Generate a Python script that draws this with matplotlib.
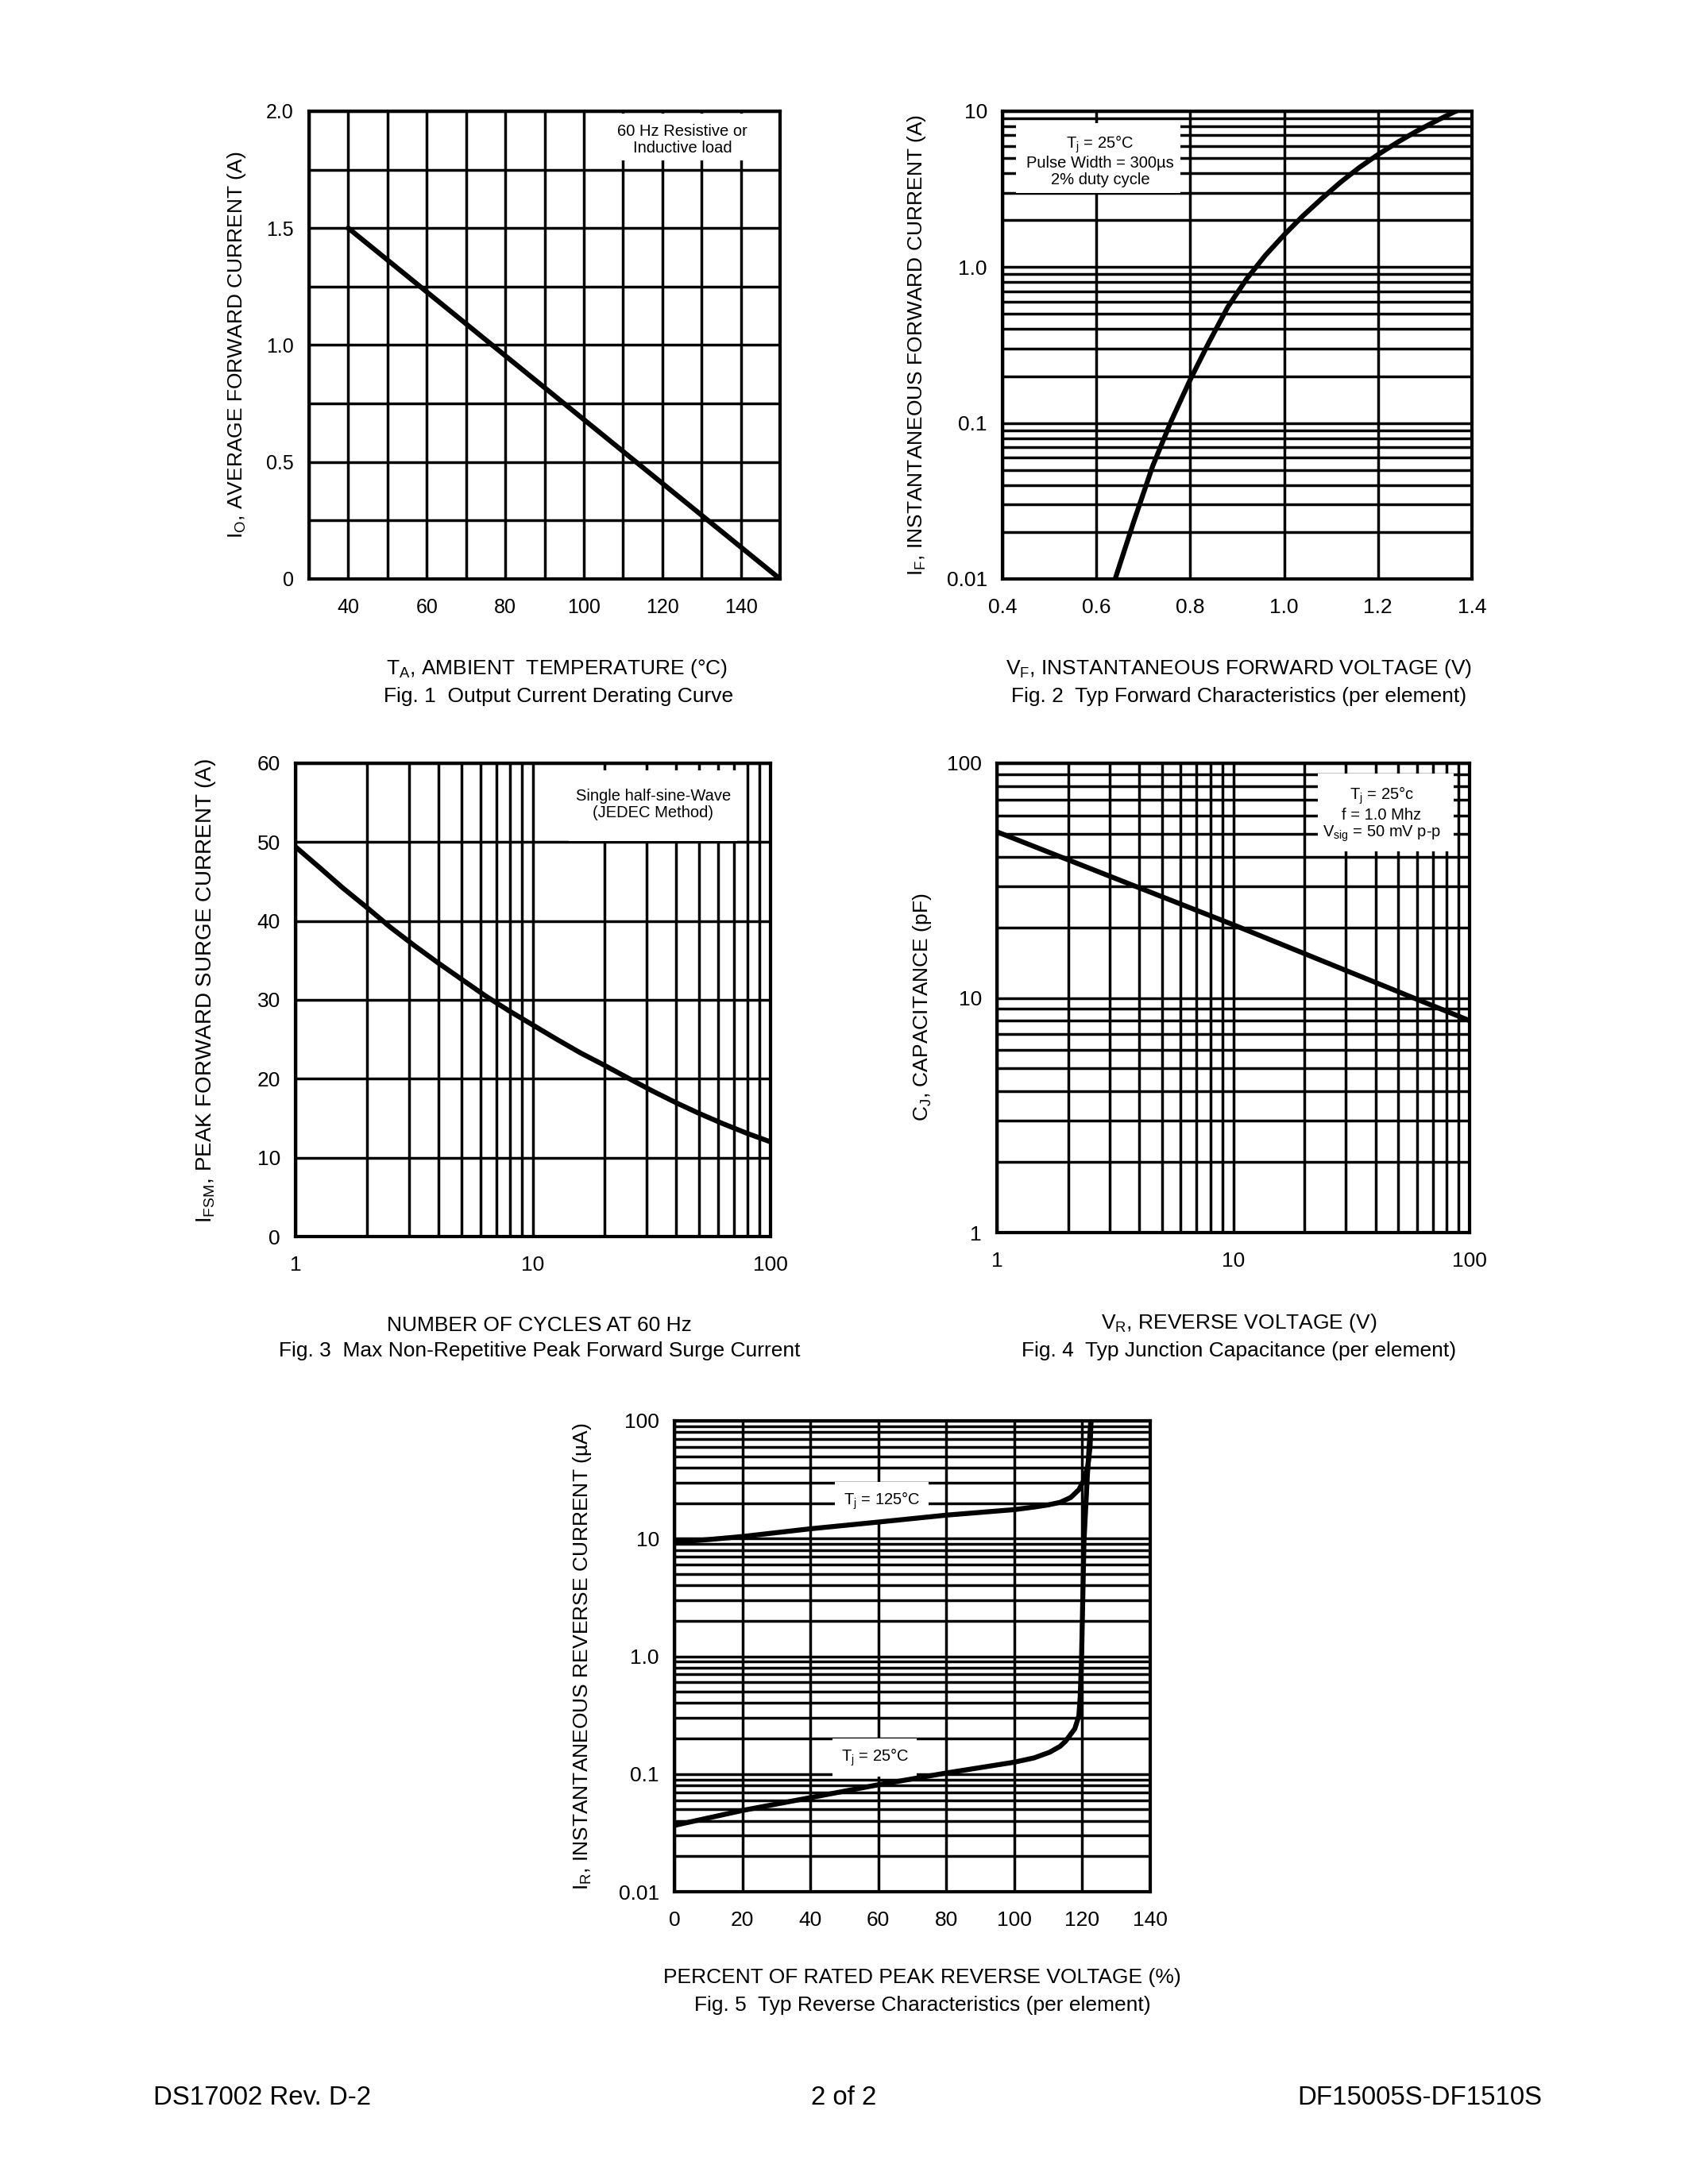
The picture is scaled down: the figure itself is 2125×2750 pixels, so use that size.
import numpy as np
import matplotlib.pyplot as plt
from matplotlib.patches import Rectangle
from matplotlib.ticker import LogLocator, NullFormatter

plt.rcParams['font.family'] = ['Liberation Sans', 'DejaVu Sans']
plt.rcParams['mathtext.fontset'] = 'custom'
plt.rcParams['mathtext.rm'] = 'Liberation Sans'
plt.rcParams['mathtext.it'] = 'Liberation Sans'

# Fig. 1 derating curve
fig1_temp = [40, 150]
fig1_current = [1.5, 0.0]

# Fig. 2 forward characteristics
fig2_vf = [0.64, 0.68, 0.72, 0.76, 0.80, 0.84, 0.88, 0.92, 0.96, 1.00, 1.04, 1.08, 1.12,
           1.16, 1.20, 1.24, 1.28, 1.32, 1.36, 1.366]
fig2_if = [0.0100, 0.0235, 0.053, 0.104, 0.19, 0.33, 0.555, 0.839, 1.19, 1.61, 2.13, 2.75, 3.50,
           4.35, 5.27, 6.28, 7.38, 8.55, 9.82, 10.0]

# Fig. 3 surge current
fig3_cycles = [1, 1.26, 1.58, 2.0, 2.51, 3.16, 3.98, 5.01, 6.31, 7.94, 10,
               12.6, 15.8, 20, 25.1, 31.6, 39.8, 50.1, 63.1, 79.4, 100]
fig3_ifsm = [49.4, 46.8, 44.2, 41.7, 39.2, 36.9, 34.7, 32.6, 30.5, 28.6, 26.8,
             25.0, 23.3, 21.7, 20.1, 18.5, 17.0, 15.6, 14.3, 13.1, 12.0]

# Fig. 4 junction capacitance
fig4_vr = [1, 10, 100]
fig4_cj = [51, 20.5, 8.0]

# Fig. 5 reverse characteristics
fig5_pct_125 = [0, 10, 20, 40, 60, 80, 100, 105.8, 110, 113.5, 116.6, 119.0, 120.5, 121.7, 122.3, 122.6]
fig5_ir_125 = [9.3, 9.8, 10.4, 12.1, 13.8, 15.8, 17.6, 18.5, 19.3, 20.3, 22.3, 26.0, 31.5, 42, 60, 100]
fig5_pct_25 = [0, 20, 40, 60, 80, 100, 105.8, 110.4, 113.5, 115.1, 117.8, 119.0, 119.4, 119.8,
               120.5, 121.5, 122.5]
fig5_ir_25 = [0.0366, 0.049, 0.063, 0.081, 0.102, 0.126, 0.137, 0.153, 0.172, 0.19, 0.242, 0.311,
              0.455, 0.97, 9.4, 34, 100]

W, H = 2125, 2750
fig = plt.figure(figsize=(W / 250, H / 250), dpi=250)


def px_axes(l, r, t, b):
    return fig.add_axes([l / W, 1 - b / H, (r - l) / W, (b - t) / H])


def px_text(x, y, s, **kw):
    fig.text(x / W, 1 - y / H, s, **kw)


def style(ax, size=7.6):
    ax.tick_params(which='both', length=0, labelsize=size)
    ax.tick_params(axis='x', pad=7.0)
    ax.tick_params(axis='y', pad=5.5)
    ax.grid(which='both', color='black', lw=1.0)
    for s in ax.spines.values():
        s.set_linewidth(1.2)


def note_box(ax, x0, x1, y0, y1):
    ax.add_patch(Rectangle((x0, y0), x1 - x0, y1 - y0, transform=ax.transAxes,
                           facecolor='white', edgecolor='none', zorder=2))


lab = 7.6
note = 5.8

# ---- Fig 1
ax1 = px_axes(389, 982, 140, 729)
ax1.plot(fig1_temp, fig1_current, color='black', lw=1.8, zorder=3)
ax1.set_xlim(30, 150)
ax1.set_ylim(0, 2.0)
ax1.set_xticks(np.arange(30, 151, 10))
ax1.set_xticklabels(['' if v % 20 else str(v) for v in range(30, 151, 10)])
ax1.set_yticks(np.arange(0, 2.01, 0.25))
ax1.set_yticklabels(['0', '', '0.5', '', '1.0', '', '1.5', '', '2.0'])
style(ax1, 7.2)
note_box(ax1, 0.64, 0.943, 0.895, 0.995)
ax1.text(0.793, 0.939, '60 Hz Resistive or\nInductive load', transform=ax1.transAxes,
         ha='center', va='center', fontsize=note, zorder=3, linespacing=1.1)
px_text(298, 434, r'I$_\mathregular{O}$, AVERAGE FORWARD CURRENT (A)', rotation=90,
        ha='center', va='center', fontsize=lab)
px_text(701, 842, r'T$_\mathregular{A}$, AMBIENT  TEMPERATURE (°C)', ha='center', va='center', fontsize=lab)
px_text(703, 877, 'Fig. 1  Output Current Derating Curve', ha='center', va='center', fontsize=lab)

# ---- Fig 2
ax2 = px_axes(1262, 1853, 140, 729)
ax2.plot(fig2_vf, fig2_if, color='black', lw=1.8, zorder=3)
ax2.set_yscale('log')
ax2.set_xlim(0.4, 1.4)
ax2.set_ylim(0.01, 10)
ax2.set_xticks(np.arange(0.4, 1.41, 0.2))
ax2.set_xticklabels(['0.4', '0.6', '0.8', '1.0', '1.2', '1.4'])
ax2.yaxis.set_minor_locator(LogLocator(base=10, subs=np.arange(2, 10), numticks=20))
ax2.yaxis.set_minor_formatter(NullFormatter())
ax2.set_yticks([0.01, 0.1, 1, 10])
ax2.set_yticklabels(['0.01', '0.1', '1.0', '10'])
style(ax2)
note_box(ax2, 0.029, 0.379, 0.825, 0.975)
ax2.text(0.208, 0.895, 'T$_\\mathregular{j}$ = 25°C\nPulse Width = 300µs\n2% duty cycle',
         transform=ax2.transAxes, ha='center', va='center', fontsize=note, zorder=3, linespacing=1.1)
px_text(1154, 434, r'I$_\mathregular{F}$, INSTANTANEOUS FORWARD CURRENT (A)', rotation=90,
        ha='center', va='center', fontsize=lab)
px_text(1560, 842, r'V$_\mathregular{F}$, INSTANTANEOUS FORWARD VOLTAGE (V)', ha='center', va='center', fontsize=lab)
px_text(1560, 877, 'Fig. 2  Typ Forward Characteristics (per element)', ha='center', va='center', fontsize=lab)

# ---- Fig 3
ax3 = px_axes(372, 970, 961, 1557)
ax3.plot(fig3_cycles, fig3_ifsm, color='black', lw=1.8, zorder=3)
ax3.set_xscale('log')
ax3.set_xlim(1, 100)
ax3.set_ylim(0, 60)
ax3.xaxis.set_minor_locator(LogLocator(base=10, subs=np.arange(2, 10), numticks=20))
ax3.xaxis.set_minor_formatter(NullFormatter())
ax3.set_xticks([1, 10, 100])
ax3.set_xticklabels(['1', '10', '100'])
ax3.set_yticks(np.arange(0, 61, 10))
style(ax3)
note_box(ax3, 0.575, 0.93, 0.836, 0.985)
ax3.text(0.753, 0.913, 'Single half-sine-Wave\n(JEDEC Method)', transform=ax3.transAxes,
         ha='center', va='center', fontsize=note, zorder=3, linespacing=1.1)
px_text(259, 1247, r'I$_\mathregular{FSM}$, PEAK FORWARD SURGE CURRENT (A)', rotation=90,
        ha='center', va='center', fontsize=8.0)
px_text(679, 1669, 'NUMBER OF CYCLES AT 60 Hz', ha='center', va='center', fontsize=lab)
px_text(679, 1701, 'Fig. 3  Max Non-Repetitive Peak Forward Surge Current', ha='center', va='center', fontsize=lab)

# ---- Fig 4
ax4 = px_axes(1255, 1850, 961, 1552)
ax4.plot(fig4_vr, fig4_cj, color='black', lw=1.8, zorder=3)
ax4.set_xscale('log')
ax4.set_yscale('log')
ax4.set_xlim(1, 100)
ax4.set_ylim(1, 100)
for axis in (ax4.xaxis, ax4.yaxis):
    axis.set_minor_locator(LogLocator(base=10, subs=np.arange(2, 10), numticks=20))
    axis.set_minor_formatter(NullFormatter())
ax4.set_xticks([1, 10, 100])
ax4.set_xticklabels(['1', '10', '100'])
ax4.set_yticks([1, 10, 100])
ax4.set_yticklabels(['1', '10', '100'])
style(ax4)
note_box(ax4, 0.679, 0.966, 0.812, 0.978)
ax4.text(0.814, 0.891, 'T$_\\mathregular{j}$ = 25°c\nf = 1.0 Mhz\nV$_\\mathregular{sig}$ = 50 mV p-p',
         transform=ax4.transAxes, ha='center', va='center', fontsize=note, zorder=3, linespacing=1.1)
px_text(1161, 1268, r'C$_\mathregular{J}$, CAPACITANCE (pF)', rotation=90,
        ha='center', va='center', fontsize=lab)
px_text(1560, 1666, r'V$_\mathregular{R}$, REVERSE VOLTAGE (V)', ha='center', va='center', fontsize=lab)
px_text(1560, 1701, 'Fig. 4  Typ Junction Capacitance (per element)', ha='center', va='center', fontsize=lab)

# ---- Fig 5
ax5 = px_axes(849, 1448, 1789, 2382)
ax5.plot(fig5_pct_125, fig5_ir_125, color='black', lw=1.8, zorder=3)
ax5.plot(fig5_pct_25, fig5_ir_25, color='black', lw=1.8, zorder=3)
ax5.set_yscale('log')
ax5.set_xlim(0, 140)
ax5.set_ylim(0.01, 100)
ax5.set_xticks(np.arange(0, 141, 20))
ax5.yaxis.set_minor_locator(LogLocator(base=10, subs=np.arange(2, 10), numticks=20))
ax5.yaxis.set_minor_formatter(NullFormatter())
ax5.set_yticks([0.01, 0.1, 1, 10, 100])
ax5.set_yticklabels(['0.01', '0.1', '1.0', '10', '100'])
style(ax5)
ax5.text(0.436, 0.830, 'T$_\\mathregular{j}$ = 125°C', transform=ax5.transAxes, ha='center', va='center',
         fontsize=note, zorder=2.2, bbox=dict(facecolor='white', edgecolor='none', pad=3))
ax5.text(0.421, 0.285, 'T$_\\mathregular{j}$ = 25°C', transform=ax5.transAxes, ha='center', va='center',
         fontsize=note, zorder=2.2, bbox=dict(facecolor='white', edgecolor='none', pad=3))
px_text(733, 2086, r'I$_\mathregular{R}$, INSTANTANEOUS REVERSE CURRENT (µA)', rotation=90,
        ha='center', va='center', fontsize=lab)
px_text(1161, 2490, 'PERCENT OF RATED PEAK REVERSE VOLTAGE (%)', ha='center', va='center', fontsize=lab)
px_text(1161, 2525, 'Fig. 5  Typ Reverse Characteristics (per element)', ha='center', va='center', fontsize=lab)

# ---- footer
px_text(193, 2641, 'DS17002 Rev. D-2', ha='left', va='center', fontsize=9.5)
px_text(1062, 2641, '2 of 2', ha='center', va='center', fontsize=9.5)
px_text(1941, 2641, 'DF15005S-DF1510S', ha='right', va='center', fontsize=9.5)

fig.savefig('out.png', dpi=250, facecolor='white')
